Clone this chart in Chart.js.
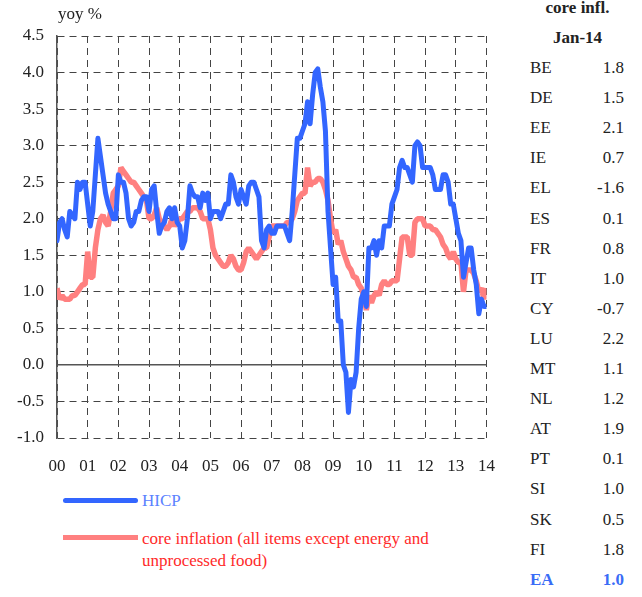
<!DOCTYPE html>
<html lang="en">
<head>
<meta charset="UTF-8">
<title>HICP and core inflation</title>
<script src="https://cdn.jsdelivr.net/npm/chart.js"></script>
<style>
  body { margin: 0; width: 642px; height: 597px; position: relative; overflow: hidden; background: #fff;
         font-family: "Liberation Serif", "DejaVu Serif", serif; color: #222; }
  #chartBox { position: absolute; left: 0; top: 0; width: 513px; height: 482px; }
  #unit { position: absolute; left: 58px; top: 4px; font-size: 17px; line-height: 20px; }
  .swatch { position: absolute; left: 63px; width: 75px; height: 5px; border-radius: 3px; }
  .keyText { position: absolute; left: 142px; font-size: 17px; line-height: 22px; white-space: nowrap; }
  .cell { position: absolute; font-size: 17px; line-height: 20px; white-space: nowrap; }
</style>
</head>
<body>

<div id="chartBox"><canvas id="inflChart"></canvas></div>
<div id="unit">yoy %</div>

<!-- legend -->
<div class="swatch" style="top:498px; background:#3366ff;"></div>
<div class="keyText" style="top:490px; color:#5b82ff;">HICP</div>
<div class="swatch" style="top:535px; background:#ff8080; border-radius:0;"></div>
<div class="keyText" style="top:528px; color:#ff2a2a;">core inflation (all items except energy and<br>unprocessed food)</div>

<!-- country table -->
<div id="table"></div>

<script>
// x axis tick labels (one per January)
const yearLabels = ['00', '01', '02', '03', '04', '05', '06', '07', '08', '09', '10', '11', '12', '13', '14'];

// HICP, yoy %, monthly Jan 2000 - Jan 2014
const hicp = [
  1.7, 1.95, 2.0, 1.85, 1.75, 2.1, 2.05, 2.0, 2.5, 2.4, 2.5, 2.5,
  2.2, 1.9, 2.1, 2.6, 3.1, 2.85, 2.6, 2.35, 2.2, 2.1, 2.0, 2.0,
  2.6, 2.5, 2.5, 2.35, 2.0, 1.9, 1.95, 2.1, 2.1, 2.25, 2.3, 2.3,
  2.1, 2.4, 2.45, 2.1, 1.8, 1.9, 1.95, 2.1, 2.15, 2.0, 2.15, 1.95,
  1.9, 1.6, 1.7, 2.0, 2.45, 2.35, 2.3, 2.3, 2.15, 2.35, 2.25, 2.35,
  2.0, 2.1, 2.1, 2.1, 2.0, 2.1, 2.2, 2.2, 2.6, 2.5, 2.3, 2.2,
  2.4, 2.3, 2.2, 2.45, 2.5, 2.5, 2.4, 2.3, 1.7, 1.6, 1.85, 1.9,
  1.8, 1.8, 1.9, 1.9, 1.9, 1.9, 1.8, 1.7, 2.1, 2.6, 3.1, 3.1,
  3.2, 3.3, 3.6, 3.3, 3.7, 4.0, 4.05, 3.8, 3.6, 3.2, 2.1, 1.6,
  1.1, 1.2, 0.6, 0.6, 0.0, -0.1, -0.65, -0.2, -0.3, -0.1, 0.5, 0.9,
  1.0, 0.8, 1.6, 1.6, 1.7, 1.5, 1.7, 1.6, 1.9, 1.9, 1.9, 2.2,
  2.3, 2.4, 2.7, 2.8, 2.7, 2.7, 2.6, 2.5, 3.0, 3.05, 3.0, 2.7,
  2.7, 2.7, 2.7, 2.6, 2.4, 2.4, 2.4, 2.6, 2.6, 2.5, 2.2, 2.2,
  2.0, 1.8, 1.7, 1.2, 1.4, 1.6, 1.6, 1.3, 1.1, 0.7, 0.9, 0.8,
  0.8
];

// core inflation (excl. energy and unprocessed food), yoy %
const core = [
  1.05, 0.9, 0.95, 0.9, 0.9, 0.9, 0.95, 0.95, 1.0, 1.05, 1.1, 1.1,
  1.55, 1.2, 1.2, 1.6, 1.85, 2.0, 2.05, 1.95, 1.9, 2.1, 2.35, 2.4,
  2.45, 2.7, 2.65, 2.6, 2.55, 2.5, 2.5, 2.45, 2.4, 2.35, 2.3, 2.25,
  2.0, 2.0, 2.05, 2.15, 2.0, 1.95, 1.9, 1.85, 1.9, 2.0, 1.9, 1.95,
  2.0, 2.0, 2.05, 2.1, 2.1, 2.15, 2.15, 2.15, 2.1, 2.0, 2.0, 2.0,
  1.85, 1.6, 1.5, 1.45, 1.4, 1.35, 1.35, 1.4, 1.5, 1.45, 1.35, 1.3,
  1.3, 1.4, 1.55, 1.6, 1.55, 1.5, 1.45, 1.5, 1.55, 1.6, 1.6, 1.75,
  1.9, 1.9, 1.9, 1.9, 1.9, 1.9, 1.95, 1.95, 2.0, 2.1, 2.25, 2.3,
  2.35, 2.35, 2.7, 2.45, 2.5, 2.5, 2.55, 2.55, 2.5, 2.4, 2.25, 2.0,
  1.8, 1.85, 1.65, 1.7, 1.55, 1.45, 1.35, 1.3, 1.2, 1.2, 1.1, 1.05,
  0.95, 0.75, 0.95, 0.85, 0.95, 1.0, 0.95, 1.1, 1.15, 1.1, 1.1, 1.15,
  1.15, 1.15, 1.45, 1.75, 1.75, 1.75, 1.5, 1.5, 1.95, 2.0, 2.0, 2.0,
  1.9, 1.9, 1.9, 1.85, 1.85, 1.8, 1.75, 1.65, 1.6, 1.5, 1.45, 1.55,
  1.45, 1.4, 1.4, 1.0, 1.3, 1.3, 1.3, 1.25, 1.15, 1.0, 1.05, 0.9,
  1.05
];

// core inflation by country, Jan-14
const countries = ['BE', 'DE', 'EE', 'IE', 'EL', 'ES', 'FR', 'IT', 'CY', 'LU', 'MT', 'NL', 'AT', 'PT', 'SI', 'SK', 'FI', 'EA'];
const coreJan14 = ['1.8', '1.5', '2.1', '0.7', '-1.6', '0.1', '0.8', '1.0', '-0.7', '2.2', '1.1', '1.2', '1.9', '0.1', '1.0', '0.5', '1.8', '1.0'];

// build the table on the right
const table = document.getElementById('table');
function addCell(text, left, top, width, align, bold, color) {
  const d = document.createElement('div');
  d.className = 'cell';
  d.textContent = text;
  d.style.left = left + 'px';
  d.style.top = top + 'px';
  d.style.width = width + 'px';
  d.style.textAlign = align;
  if (bold) d.style.fontWeight = 'bold';
  if (color) d.style.color = color;
  table.appendChild(d);
}
addCell('core infl.', 525, -2, 105, 'center', true);
addCell('Jan-14', 525, 28, 105, 'center', true);
countries.forEach(function (c, i) {
  const top = 58 + i * 30.1;
  const isEA = c === 'EA';
  addCell(c, 530, top, 40, 'left', isEA, isEA ? '#3a6cf6' : null);
  addCell(coreJan14[i], 570, top, 54, 'right', isEA, isEA ? '#3a6cf6' : null);
});

const gridDash = [7, 5];
const tickFont = { family: '"Liberation Serif", serif', size: 17 };

let ctx = document.getElementById('inflChart').getContext('2d');
let inflChart = new Chart(ctx, {
  type: 'line',
  data: {
    datasets: [{
      label: 'HICP',
      data: hicp.map(function (v, i) { return { x: i, y: v }; }),
      borderColor: '#3366ff',
      borderWidth: 5,
      pointRadius: 0,
      tension: 0,
      borderJoinStyle: 'round',
      borderCapStyle: 'round'
    }, {
      label: 'core inflation (all items except energy and unprocessed food)',
      data: core.map(function (v, i) { return { x: i, y: v }; }),
      borderColor: '#ff8080',
      borderWidth: 5.5,
      pointRadius: 0,
      tension: 0,
      borderJoinStyle: 'bevel'
    }]
  },
  options: {
    responsive: true,
    maintainAspectRatio: false,
    animation: false,
    layout: { padding: { top: 36, right: 13, left: 0, bottom: 0 } },
    plugins: { legend: { display: false }, tooltip: { enabled: false } },
    scales: {
      x: {
        type: 'linear',
        min: 0,
        max: 168,
        afterFit: function (scale) { scale.height = 44; },
        ticks: {
          stepSize: 12,
          autoSkip: false,
          maxRotation: 0,
          padding: 18,
          color: '#222',
          font: tickFont,
          callback: function (v) { return yearLabels[v / 12]; }
        },
        grid: { color: '#444', lineWidth: 1, drawTicks: false },
        border: { display: false, dash: gridDash }
      },
      y: {
        min: -1,
        max: 4.5,
        afterFit: function (scale) { scale.width = 57; },
        ticks: {
          stepSize: 0.5,
          padding: 13,
          color: '#222',
          font: tickFont,
          callback: function (v) { return v.toFixed(1); }
        },
        grid: {
          drawTicks: false,
          color: function (c) { return c.tick && c.tick.value === 0 ? '#555' : '#444'; },
          lineWidth: function (c) { return c.tick && c.tick.value === 0 ? 1.5 : 1; }
        },
        border: {
          display: true,
          color: '#555',
          width: 1.5,
          dash: function (c) { return c.tick && c.tick.value === 0 ? [] : gridDash; }
        }
      }
    }
  }
});
</script>

</body>
</html>
